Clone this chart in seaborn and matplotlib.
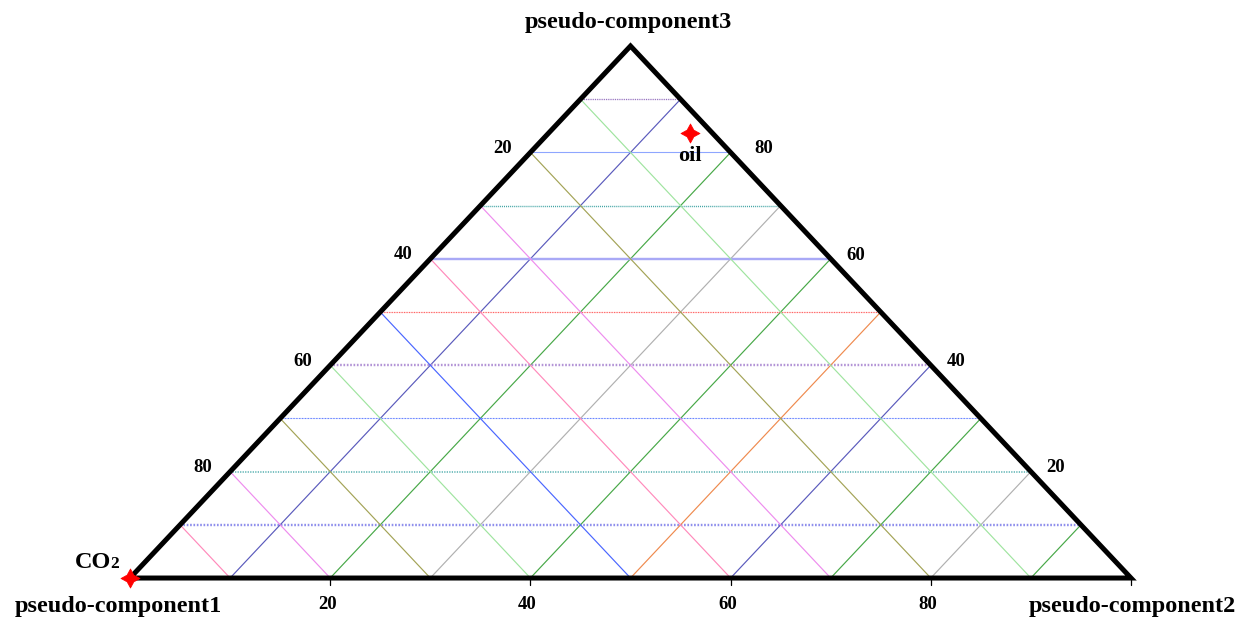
import numpy as np
import pandas as pd
import matplotlib
matplotlib.use("Agg")
import matplotlib.pyplot as plt
import seaborn as sns

# ---------------- data ----------------
components = ["pseudo-component1", "pseudo-component2", "pseudo-component3"]
grid_levels = [10, 20, 30, 40, 50, 60, 70, 80, 90]
bottom_tick_values = [20, 40, 60, 80]
left_tick_levels = [80, 60, 40, 20]      # comp3 level where left labels sit
left_tick_labels = ["20", "40", "60", "80"]
right_tick_levels = [80, 60, 40, 20]
right_tick_labels = ["80", "60", "40", "20"]

point_names = ["CO2", "oil"]
point_comp1 = [100.0, 2.3]
point_comp2 = [0.0, 14.1]
point_comp3 = [0.0, 83.6]

# colours of the grid families
horiz_colors = ["#8f8fec", "#6fbcbc", "#3f63ff", "#b394d6", "#ff4a4a",
                "#a9a9f6", "#3fa3a3", "#8ea6ff", "#8a63b8"]
horiz_styles = ["dot", "dot", "dot", "dot", "dot", "solid", "dot", "solid", "dot"]
horiz_widths = [2.4, 1.8, 1.1, 2.4, 1.2, 2.4, 1.4, 1.1, 1.3]
upleft_colors = ["#ff8abb", "#ee8cee", "#a3a356", "#9fe49f", "#4a66ff",
                 "#ff8abb", "#ee8cee", "#a3a356", "#9fe49f"]
upright_colors = ["#5a5abc", "#47a847", "#b0b0b0", "#47a847", "#ef8a4e",
                  "#5a5abc", "#47a847", "#b0b0b0", "#47a847"]


def tern(c2, c3):
    """ternary (comp2, comp3) -> plotting x, y"""
    return c2 + c3 / 2.0, c3


sns.set_style("white")
plt.rcParams["font.family"] = ["Liberation Serif", "DejaVu Serif"]
plt.rcParams["font.weight"] = "bold"
plt.rcParams["text.color"] = "black"

fig = plt.figure(figsize=(12.41, 6.20), dpi=100)
ax = fig.add_axes([0, 0, 1, 1])
ax.set_xlim(-12.99, 110.99)
ax.set_ylim(-7.89, 108.65)
ax.axis("off")

# ---- grid lines ----
for i, v in enumerate(grid_levels):
    # horizontal: constant comp3
    x0, y0 = tern(0, v)
    x1, y1 = tern(100 - v, v)
    ls = (0, (0.7, 0.7)) if horiz_styles[i] == "dot" else "-"
    ax.plot([x0, x1], [y0, y1], color=horiz_colors[i], lw=horiz_widths[i] * 0.72,
            ls=ls, zorder=2, solid_capstyle="butt")
    # up-left: constant comp1 (from base point comp2=v to left edge comp3=v)
    xa, ya = tern(v, 0)
    xb, yb = tern(0, v)
    ax.plot([xa, xb], [ya, yb], color=upleft_colors[i], lw=0.85, zorder=2)
    # up-right: constant comp2 = v
    xc, yc = tern(v, 100 - v)
    ax.plot([xa, xc], [ya, yc], color=upright_colors[i], lw=0.85, zorder=2)

# ---- triangle outline ----
tri = pd.DataFrame({"x": [tern(0, 0)[0], tern(100, 0)[0], tern(0, 100)[0], tern(0, 0)[0]],
                    "y": [0, 0, 100, 0], "o": [0, 1, 2, 3]})
sns.lineplot(data=tri, x="x", y="y", sort=False, estimator=None, color="black",
             lw=3.6, ax=ax, zorder=5)
ax.lines[-1].set_solid_joinstyle("miter")
ax.lines[-1].set_solid_capstyle("projecting")

# ---- bottom ticks ----
for v in bottom_tick_values + [100]:
    ax.plot([v, v], [0, -1.3], color="black", lw=0.9, zorder=4)
for v in bottom_tick_values:
    ax.text(v - 0.3, -4.9, str(v), ha="center", va="center", fontsize=13.5,
            fontweight="bold")

# left / right labels
for lev, lab in zip(left_tick_levels, left_tick_labels):
    x, y = tern(0, lev)
    ax.text(x - 2.75, y + 0.75, lab, ha="center", va="center", fontsize=13.5,
            fontweight="bold")
for lev, lab in zip(right_tick_levels, right_tick_labels):
    x, y = tern(100 - lev, lev)
    dx = 3.3 if lev == 80 else 2.5
    ax.text(x + dx, y + 0.7, lab, ha="center", va="center", fontsize=13.5,
            fontweight="bold")

# component titles
ax.text(49.75, 104.5, components[2], ha="center", va="center", fontsize=17.5,
        fontweight="bold")
ax.text(-1.2, -5.4, components[0], ha="center", va="center", fontsize=17.5,
        fontweight="bold")
ax.text(100.1, -5.4, components[1], ha="center", va="center", fontsize=17.5,
        fontweight="bold")

# ---- points ----
px, py = tern(np.array(point_comp2), np.array(point_comp3))
pts = pd.DataFrame({"x": px, "y": py, "name": point_names})
sns.scatterplot(data=pts, x="x", y="y", marker=(4, 1, 0), s=190, color="#ff0000",
                edgecolor="#ff0000", linewidth=0.5, ax=ax, zorder=6, legend=False)

# point labels
ax.text(px[0] - 1.9, py[0] + 1.9, "CO", ha="right", va="baseline", fontsize=17.5,
        fontweight="bold")
ax.text(px[0] - 1.95, py[0] + 1.9, "2", ha="left", va="baseline", fontsize=12.5,
        fontweight="bold")
ax.text(px[1] + 0.05, py[1] - 4.3, point_names[1], ha="center", va="center",
        fontsize=16, fontweight="bold")

fig.savefig("out.png", dpi=100, facecolor="white")
